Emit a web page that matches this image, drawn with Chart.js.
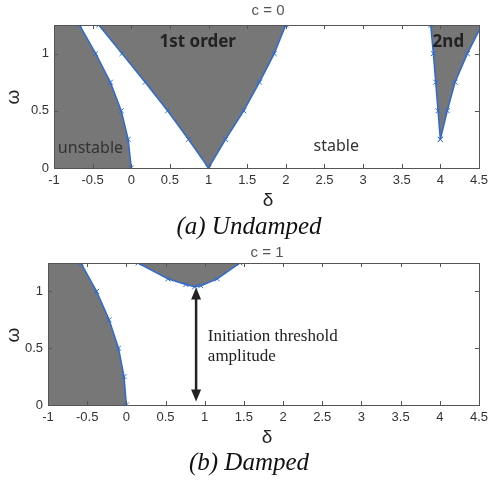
<!DOCTYPE html>
<html>
<head>
<meta charset="utf-8">
<script src="https://cdn.jsdelivr.net/npm/chart.js@4.4.1/dist/chart.umd.min.js"></script>
<style>
    html, body { margin: 0; padding: 0; background: #fff; }
    #wrap { position: relative; width: 493px; height: 481px; overflow: hidden; }
    canvas { position: absolute; left: 0; }
    #chartTop { top: 0; }
    #chartBot { top: 240px; }
</style>
</head>
<body>
<div id="wrap">
    <canvas id="chartTop" width="493" height="240"></canvas>
    <canvas id="chartBot" width="493" height="241"></canvas>
</div>
<script>
(function () {
    "use strict";

    // Axis ticks
    const deltaTicks = [-1, -0.5, 0, 0.5, 1, 1.5, 2, 2.5, 3, 3.5, 4, 4.5];
    const omegaTicks = [0, 0.5, 1];

    // (a) Undamped, c = 0
    const omegaLevels = [0, 0.25, 0.5, 0.75, 1.0, 1.25];
    const undampedUnstable = [0, -0.04, -0.13, -0.27, -0.46, -0.67];
    const tongue1Left = [1.0, 0.74, 0.47, 0.18, -0.12, -0.42];
    const tongue1Right = [1.0, 1.22, 1.455, 1.66, 1.85, 2.0];
    const tongue2LeftOmega = [0.25, 0.5, 0.75, 1.0, 1.25];
    const tongue2Left = [4.0, 3.97, 3.94, 3.91, 3.875];
    const tongue2RightOmega = [0.25, 0.5, 0.75, 1.0, 1.2];
    const tongue2Right = [4.0, 4.09, 4.19, 4.35, 4.5];

    // (b) Damped, c = 1
    const dampedUnstable = [0, -0.03, -0.1, -0.22, -0.38, -0.58];
    const lobeDelta = [0.15, 0.53, 0.76, 0.87, 0.95, 1.16, 1.45];
    const lobeOmega = [1.25, 1.11, 1.06, 1.04, 1.05, 1.11, 1.25];
    const arrowDelta = 0.89;
    const arrowFrom = 0.03;
    const arrowTo = 1.035;

    const X_MIN = -1, X_MAX = 4.5, Y_MIN = 0, Y_MAX = 1.25;

    // Colors
    const blue = "#2d6ad2";
    const gray = "#777777";
    const frameColor = "#555555";

    function pts(xs, ys) {
        return xs.map(function (x, i) { return { x: x, y: ys[i] }; });
    }

    function boundary(data) {
        return {
            data: data,
            showLine: true,
            borderColor: blue,
            borderWidth: 1.5,
            pointStyle: "crossRot",
            pointRadius: 3.5,
            pointBorderColor: blue,
            pointBorderWidth: 1,
            fill: false,
        };
    }

    function region(data) {
        return {
            data: data,
            polygon: true,
            showLine: false,
            pointRadius: 0,
            backgroundColor: gray,
            borderWidth: 0,
        };
    }

    // fill closed shapes from the dataset points that Chart.js placed
    const polyFill = {
        id: "polyFill",
        beforeDatasetsDraw(chart) {
            const ctx = chart.ctx;
            const a = chart.chartArea;
            ctx.save();
            ctx.beginPath();
            ctx.rect(a.left, a.top, a.right - a.left, a.bottom - a.top);
            ctx.clip();
            chart.data.datasets.forEach(function (ds, i) {
                if (!ds.polygon) return;
                const meta = chart.getDatasetMeta(i);
                ctx.beginPath();
                meta.data.forEach(function (p, j) {
                    if (j === 0) ctx.moveTo(p.x, p.y);
                    else ctx.lineTo(p.x, p.y);
                });
                ctx.closePath();
                ctx.fillStyle = ds.backgroundColor;
                ctx.fill();
            });
            ctx.restore();
        },
    };

    function text(ctx, s, x, y, font, color, align, rot) {
        ctx.save();
        ctx.translate(x, y);
        if (rot) ctx.rotate(rot);
        ctx.font = font;
        ctx.fillStyle = color;
        ctx.textAlign = align || "center";
        ctx.textBaseline = "middle";
        ctx.fillText(s, 0, 0);
        ctx.restore();
    }

    function deco(spec) {
        return {
            id: "deco",
            afterDatasetsDraw(chart) {
                const ctx = chart.ctx;
                const a = chart.chartArea;
                const xs = chart.scales.x;
                const ys = chart.scales.y;
                ctx.save();
                ctx.strokeStyle = frameColor;
                ctx.lineWidth = 1;
                ctx.strokeRect(Math.round(a.left) + 0.5, Math.round(a.top) + 0.5,
                    Math.round(a.right - a.left), Math.round(a.bottom - a.top));
                ctx.beginPath();
                deltaTicks.forEach(function (v) {
                    const px = Math.round(xs.getPixelForValue(v)) + 0.5;
                    ctx.moveTo(px, a.bottom); ctx.lineTo(px, a.bottom - 4);
                    ctx.moveTo(px, a.top); ctx.lineTo(px, a.top + 4);
                });
                omegaTicks.forEach(function (v) {
                    const py = Math.round(ys.getPixelForValue(v)) + 0.5;
                    ctx.moveTo(a.left, py); ctx.lineTo(a.left + 4, py);
                    ctx.moveTo(a.right, py); ctx.lineTo(a.right - 4, py);
                });
                ctx.stroke();
                ctx.restore();

                // notes inside the plot
                spec.notes.forEach(function (n) {
                    text(ctx, n.s, xs.getPixelForValue(n.x), ys.getPixelForValue(n.y),
                        n.font, n.color, n.align);
                });

                if (spec.arrow) {
                    const ax = xs.getPixelForValue(spec.arrow.x);
                    const y1 = ys.getPixelForValue(spec.arrow.from);
                    const y2 = ys.getPixelForValue(spec.arrow.to);
                    ctx.save();
                    ctx.strokeStyle = "#222";
                    ctx.fillStyle = "#222";
                    ctx.lineWidth = 2.5;
                    ctx.beginPath();
                    ctx.moveTo(ax, y1 - 9);
                    ctx.lineTo(ax, y2 + 9);
                    ctx.stroke();
                    ctx.beginPath();
                    ctx.moveTo(ax, y2); ctx.lineTo(ax - 5, y2 + 12); ctx.lineTo(ax + 5, y2 + 12);
                    ctx.closePath();
                    ctx.fill();
                    ctx.beginPath();
                    ctx.moveTo(ax, y1); ctx.lineTo(ax - 5, y1 - 12); ctx.lineTo(ax + 5, y1 - 12);
                    ctx.closePath();
                    ctx.fill();
                    ctx.restore();
                }

                text(ctx, spec.title, spec.midX, spec.titleY, "15px 'Liberation Sans'", "#555");
                text(ctx, "\u03b4", spec.midX, spec.xLabelY, "19px 'Liberation Sans'", "#222");
                text(ctx, "\u03c9", 14, spec.yLabelY, "19px 'Liberation Sans'", "#222", "center", -Math.PI / 2);
                text(ctx, spec.caption, 249, spec.captionY, "italic 25px 'Liberation Serif'", "#111");
            },
        };
    }

    function makeChart(id, canvasH, area, datasets, spec) {
        return new Chart(document.getElementById(id), {
            type: "scatter",
            data: { datasets: datasets },
            options: {
                responsive: false,
                animation: false,
                devicePixelRatio: 1,
                layout: { padding: { top: area.top, right: 493 - area.right, left: 0, bottom: 0 } },
                plugins: { legend: { display: false }, tooltip: { enabled: false } },
                scales: {
                    x: {
                        type: "linear",
                        min: X_MIN,
                        max: X_MAX,
                        grid: { display: false, drawTicks: false },
                        border: { display: false },
                        ticks: {
                            padding: 5,
                            autoSkip: false,
                            maxRotation: 0,
                            color: "#333",
                            font: { family: "Liberation Sans", size: 13 },
                            callback: function (v) { return String(v); },
                        },
                        afterBuildTicks: function (s) { s.ticks = deltaTicks.map(function (v) { return { value: v }; }); },
                        afterFit: function (s) { s.height = canvasH - area.bottom; },
                    },
                    y: {
                        type: "linear",
                        min: Y_MIN,
                        max: Y_MAX,
                        grid: { display: false, drawTicks: false },
                        border: { display: false },
                        ticks: {
                            padding: 5,
                            color: "#333",
                            font: { family: "Liberation Sans", size: 13 },
                            callback: function (v) { return String(v); },
                        },
                        afterBuildTicks: function (s) { s.ticks = omegaTicks.map(function (v) { return { value: v }; }); },
                        afterFit: function (s) { s.width = area.left; },
                    },
                },
            },
            plugins: [polyFill, deco(spec)],
        });
    }

    // UNDAMPED
    const unstableA = pts(undampedUnstable, omegaLevels);
    const t1L = pts(tongue1Left, omegaLevels);
    const t1R = pts(tongue1Right, omegaLevels);
    const t2L = pts(tongue2Left, tongue2LeftOmega);
    const t2R = pts(tongue2Right, tongue2RightOmega);

    const noteFont = "16px 'Noto Sans'";
    const boldFont = "bold 17px 'Noto Sans'";

    makeChart("chartTop", 240, { left: 54, right: 486, top: 25, bottom: 168 }, [
        region([{ x: X_MIN, y: Y_MIN }].concat(unstableA, [{ x: X_MIN, y: Y_MAX }])),
        region(t1L.slice().reverse().concat(t1R.slice(1))),
        region(t2L.slice().reverse().concat(t2R.slice(1), [{ x: X_MAX, y: Y_MAX }])),
        boundary(unstableA),
        boundary(t1L),
        boundary(t1R),
        boundary(t2L),
        boundary(t2R),
    ], {
        title: "c = 0", midX: 268, titleY: 11, xLabelY: 201, yLabelY: 97,
        caption: "(a) Undamped", captionY: 227,
        notes: [
            { s: "1st order", x: 0.86, y: 1.1, font: boldFont, color: "#222", align: "center" },
            { s: "2nd", x: 3.9, y: 1.1, font: boldFont, color: "#222", align: "left" },
            { s: "unstable", x: -0.95, y: 0.175, font: noteFont, color: "#333", align: "left" },
            { s: "stable", x: 2.36, y: 0.19, font: noteFont, color: "#333", align: "left" },
        ],
    });

    // DAMPED
    const unstableB = pts(dampedUnstable, omegaLevels);
    const lobe = pts(lobeDelta, lobeOmega);
    const serif = "17px 'Liberation Serif'";

    makeChart("chartBot", 241, { left: 48, right: 487, top: 23, bottom: 165 }, [
        region([{ x: X_MIN, y: Y_MIN }].concat(unstableB, [{ x: X_MIN, y: Y_MAX }])),
        region(lobe),
        boundary(unstableB),
        boundary(lobe),
    ], {
        title: "c = 1", midX: 267, titleY: 13, xLabelY: 198, yLabelY: 95,
        caption: "(b) Damped", captionY: 223,
        arrow: { x: arrowDelta, from: arrowFrom, to: arrowTo },
        notes: [
            { s: "Initiation threshold", x: 1.04, y: 0.6, font: serif, color: "#222", align: "left" },
            { s: "amplitude", x: 1.04, y: 0.43, font: serif, color: "#222", align: "left" },
        ],
    });
})();
</script>
</body>
</html>
